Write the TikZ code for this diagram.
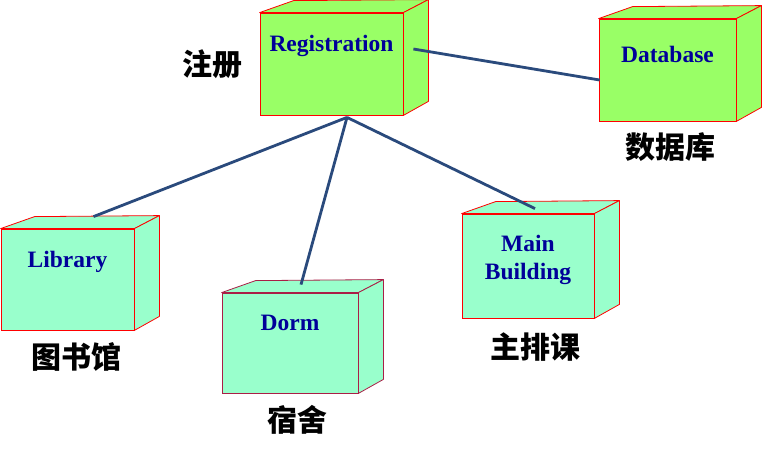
\documentclass[tikz,border=0pt]{standalone}
\usepackage{fontspec}
\setmainfont{Liberation Serif}
\newfontfamily\cjk{Noto Sans CJK SC}
\usetikzlibrary{positioning,calc}
\definecolor{reg-fill}{RGB}{153,255,102}
\definecolor{node-fill}{RGB}{153,255,204}
\definecolor{node-text}{RGB}{0,0,153}
\definecolor{link-blue}{RGB}{42,74,124}
\definecolor{dorm-line}{RGB}{170,30,70}
\tikzstyle{cube}=[draw=red,line width=0.8pt,rectangle,inner sep=0pt,minimum width=136pt,minimum height=102pt]
\tikzstyle{face}=[draw=red,line width=0.8pt,line join=round]
\tikzstyle{txt}=[text=node-text,inner sep=0pt,anchor=base,align=center,font=\fontsize{23.5}{28}\selectfont\bfseries]
\tikzstyle{cn}=[font=\cjk\bfseries\fontsize{30}{34}\selectfont]
\tikzstyle{link}=[draw=link-blue,line width=2.8pt]

\begin{document}
\begin{tikzpicture}[x=1pt,y=-1pt]
  \useasboundingbox (0,0) rectangle (763,455);

  % Registration and database
  \node [cube,fill=reg-fill,minimum width=143pt] (reg) at (331.5,64) {};
  \node [cube,fill=reg-fill,minimum width=137pt] (db) at (667.5,70) {};

  % Client nodes
  \node [cube,fill=node-fill,minimum width=133pt,minimum height=101pt] (lib) at (67.5,279.5) {};
  \node [cube,fill=node-fill,draw=dorm-line,minimum height=100pt] (dorm) at (290,343) {};
  \node [cube,fill=node-fill,minimum width=132pt,minimum height=104pt] (mb) at (528,266) {};

  % Top and side faces
  \foreach \n/\c/\d in {reg/reg-fill/red,db/reg-fill/red,lib/node-fill/red,dorm/node-fill/dorm-line,mb/node-fill/red} {
    \filldraw [face,fill=\c,draw=\d] (\n.north west) -- ++(34,-12) -- ([shift={(25,-13)}]\n.north east) -- (\n.north east) -- cycle;
    \filldraw [face,fill=\c,draw=\d] (\n.north east) -- ++(25,-13) -- ([shift={(25,-14)}]\n.south east) -- (\n.south east) -- cycle;
  }

  % Names
  \node [txt] (regt) at ([yshift=-39pt]reg.north) {Registration};
  \node [txt] (dbt) at ([yshift=-44pt]db.north) {Database};
  \node [txt] (libt) at ([yshift=-39pt]lib.north) {Library};
  \node [txt] (dormt) at ([yshift=-38pt]dorm.north) {Dorm};
  \node [txt] (mbt) at ([yshift=-66pt]mb.north) {Main\\Building};

  % Chinese labels
  \node [cn] (regc) at (212,64) {注册};
  \node [cn] (dbc) at (670,147) {数据库};
  \node [cn] (libc) at (76,357) {图书馆};
  \node [cn] (dormc) at (297,420) {宿舍};
  \node [cn] (mbc) at (535,347) {主排课};

  % Links
  \coordinate (hub) at ([xshift=15.5pt,yshift=-2pt]reg.south);
  \coordinate (regr) at ([xshift=10pt,yshift=15pt]reg.east);
  \coordinate (dbl) at ([xshift=1pt,yshift=-10pt]db.west);
  \coordinate (libtop) at ([xshift=26pt,yshift=12pt]lib.north);
  \coordinate (dormtop) at ([xshift=11pt,yshift=8pt]dorm.north);
  \coordinate (mbtop) at ([xshift=7pt,yshift=5pt]mb.north);

  \draw [link] (regr) -- (dbl);
  \draw [link] (hub) -- (libtop);
  \draw [link] (hub) -- (dormtop);
  \draw [link] (hub) -- (mbtop);
\end{tikzpicture}
\end{document}
